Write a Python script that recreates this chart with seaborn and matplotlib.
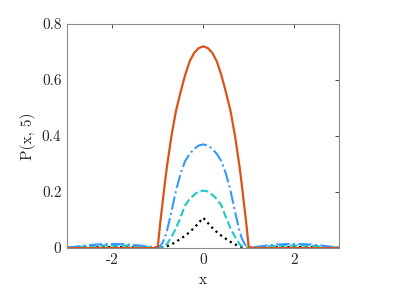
import numpy as np
import matplotlib
matplotlib.use("Agg")
import matplotlib.pyplot as plt
import seaborn as sns

# x grid (denser inside the support [-1, 1])
x = [-3.0, -2.8, -2.6, -2.4, -2.2, -2.0, -1.8, -1.6, -1.4, -1.2, -1.1,
     -1.0, -0.95, -0.9, -0.85, -0.8, -0.7, -0.6, -0.5, -0.4, -0.3, -0.2, -0.1,
     0.0,
     0.1, 0.2, 0.3, 0.4, 0.5, 0.6, 0.7, 0.8, 0.85, 0.9, 0.95, 1.0,
     1.1, 1.2, 1.4, 1.6, 1.8, 2.0, 2.2, 2.4, 2.6, 2.8, 3.0]

p_solid = [0, 0, 0, 0, 0, 0, 0, 0, 0, 0, 0,
           0.005, 0.085, 0.155, 0.225, 0.29, 0.40, 0.49, 0.556, 0.617, 0.666, 0.697, 0.714,
           0.72,
           0.714, 0.697, 0.666, 0.617, 0.556, 0.49, 0.40, 0.29, 0.225, 0.155, 0.085, 0.005,
           0, 0, 0, 0, 0, 0, 0, 0, 0, 0, 0]

p_dashdot = [0.002, 0.005, 0.009, 0.012, 0.014, 0.0145, 0.014, 0.012, 0.009, 0.005, 0.003,
             0.002, 0.007, 0.018, 0.035, 0.06, 0.13, 0.205, 0.265, 0.31, 0.336, 0.354, 0.366,
             0.37,
             0.366, 0.354, 0.336, 0.31, 0.265, 0.205, 0.13, 0.06, 0.035, 0.018, 0.007, 0.002,
             0.003, 0.005, 0.009, 0.012, 0.014, 0.0145, 0.014, 0.012, 0.009, 0.005, 0.002]

p_dashed = [0.001, 0.003, 0.006, 0.008, 0.009, 0.009, 0.009, 0.008, 0.006, 0.003, 0.001,
            0.0, 0.001, 0.003, 0.007, 0.014, 0.04, 0.07, 0.11, 0.152, 0.175, 0.19, 0.202,
            0.205,
            0.202, 0.19, 0.175, 0.152, 0.11, 0.07, 0.04, 0.014, 0.007, 0.003, 0.001, 0.0,
            0.001, 0.003, 0.006, 0.008, 0.009, 0.009, 0.009, 0.008, 0.006, 0.003, 0.001]

p_dotted = [0.0005, 0.001, 0.002, 0.003, 0.0035, 0.004, 0.0035, 0.003, 0.002, 0.001, 0.0005,
            0.0, 0.001, 0.002, 0.004, 0.006, 0.013, 0.022, 0.033, 0.044, 0.057, 0.072, 0.09,
            0.108,
            0.09, 0.072, 0.057, 0.044, 0.033, 0.022, 0.013, 0.006, 0.004, 0.002, 0.001, 0.0,
            0.0005, 0.001, 0.002, 0.003, 0.0035, 0.004, 0.0035, 0.003, 0.002, 0.001, 0.0005]

sns.set_style("white")
plt.rcParams["font.family"] = ["cmr10", "DejaVu Serif"]
plt.rcParams["axes.unicode_minus"] = False
plt.rcParams["axes.formatter.use_mathtext"] = True

fig = plt.figure(figsize=(4.07, 2.96), dpi=100)
ax = fig.add_axes([0.1646, 0.162, 0.6695, 0.757])

sns.lineplot(x=x, y=p_dotted, ax=ax, color="black", linestyle=":", lw=1.6, estimator=None)
sns.lineplot(x=x, y=p_dashed, ax=ax, color="#1CC8C8", linestyle="--", lw=1.5, estimator=None)
sns.lineplot(x=x, y=p_dashdot, ax=ax, color="#3399FF", linestyle="-.", lw=1.5, estimator=None)
sns.lineplot(x=x, y=p_solid, ax=ax, color="#D95319", linestyle="-", lw=1.6, estimator=None)

ax.set_xlim(-3, 3)
ax.set_ylim(0, 0.8)
ax.set_xticks([-2, 0, 2])
ax.set_xticklabels(["-2", "0", "2"])
ax.set_yticks([0, 0.2, 0.4, 0.6, 0.8])
ax.set_yticklabels(["0", "0.2", "0.4", "0.6", "0.8"])
ax.set_xlabel("x", fontsize=11)
ax.set_ylabel("P(x, 5)", fontsize=11)
ax.tick_params(direction="in", length=3, width=0.6, color="#262626",
               labelsize=11, top=True, right=True, pad=4)
for s in ax.spines.values():
    s.set_color("#8C8C8C")
    s.set_linewidth(0.8)

fig.savefig("out.png", dpi=100)
